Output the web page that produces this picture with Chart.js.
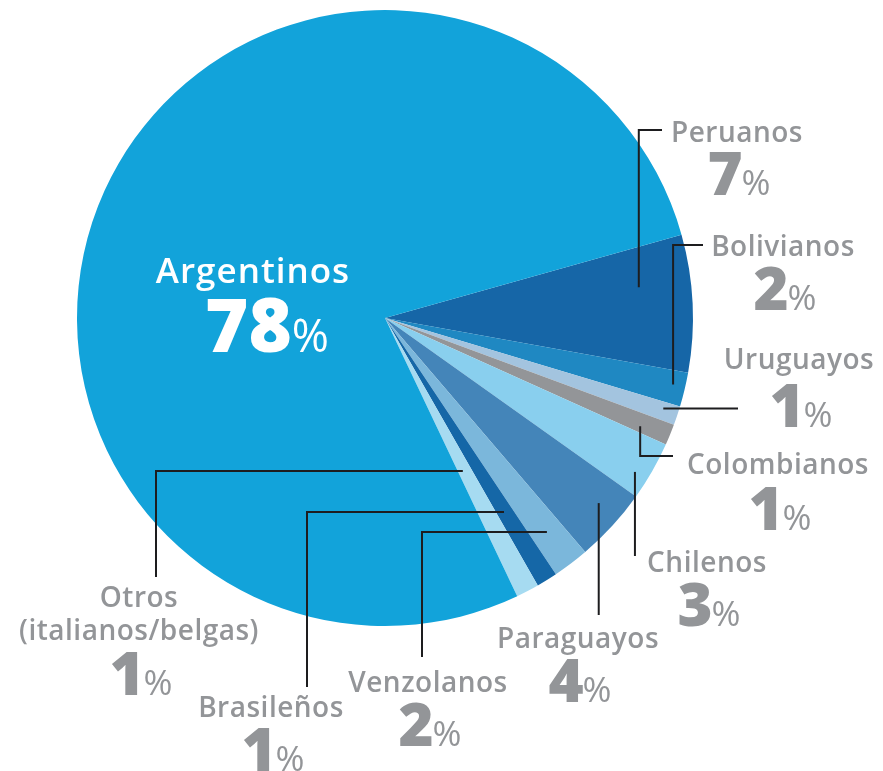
<!DOCTYPE html>
<html>
<head>
<meta charset="utf-8">
<script src="https://cdn.jsdelivr.net/npm/chart.js@4"></script>
<style>
  html, body { margin: 0; padding: 0; background: #fff; }
  #wrap { width: 883px; height: 771px; position: relative; }
</style>
</head>
<body>
<div id="wrap"><canvas id="pie"></canvas></div>
<script>
const categories = ['Peruanos', 'Bolivianos', 'Uruguayos', 'Colombianos', 'Chilenos',
                    'Paraguayos', 'Venzolanos', 'Brasileños', 'Otros (italianos/belgas)', 'Argentinos'];
const sliceValues = [7.2, 1.8, 1.0, 1.1, 3.1, 3.9, 1.9, 1.1, 1.2, 77.7];
const shownPercent = [7, 2, 1, 1, 3, 4, 2, 1, 1, 78];
const nameLines = [['Peruanos'], ['Bolivianos'], ['Uruguayos'], ['Colombianos'], ['Chilenos'],
                   ['Paraguayos'], ['Venzolanos'], ['Brasileños'], ['Otros', '(italianos/belgas)'], ['Argentinos']];
const sliceColors = ['#1666a7', '#1f88c2', '#a3c4df', '#939598', '#89cfee',
                     '#4485b9', '#7bb7db', '#1567a7', '#a6dbf1', '#12a3da'];

// Label placement: text centre x, first-line baseline, number baseline,
// leader anchor inside the slice [fraction of the slice angle, fraction of radius], and route
const labelLayout = [
    { x: 737, y: 142, py: 195, anchor: [0.34, 0.83], route: [['v', 130], ['h', 662]] },
    { x: 783, y: 256, py: 310, anchor: [0.43, 0.96], route: [['v', 245], ['h', 703]] },
    { x: 799, y: 369, py: 427, anchor: [0.36, 0.95], route: [['h', 738]] },
    { x: 778, y: 474, py: 530, anchor: [0.68, 0.90], route: [['v', 456], ['h', 673]] },
    { x: 707, y: 572, py: 626, anchor: [0.66, 0.953], route: [['v', 556]] },
    { x: 578, y: 648, py: 702, anchor: [0.39, 0.918], route: [['v', 615]] },
    { x: 428, y: 692, py: 746, anchor: [0.50, 0.871], route: [['h', 422], ['v', 657]] },
    { x: 271, y: 717, py: 771, anchor: [0.55, 0.739], route: [['h', 307], ['v', 687]] },
    { x: 139, y: 607, py: 695, lineGap: 33, anchor: [0.64, 0.557], route: [['h', 156], ['v', 577]] },
    { x: 253, y: 283, py: 352, inside: true }
];

const GRAY = '#939598';
const FONT = '"Open Sans", "DejaVu Sans", sans-serif';

const labelPlugin = {
    id: 'leaderLabels',
    afterDatasetsDraw(chart) {
        const ctx = chart.ctx;
        const arcs = chart.getDatasetMeta(0).data;
        ctx.save();
        arcs.forEach((arc, i) => {
            const lay = labelLayout[i];
            if (!lay) return;
            // leader line, starting from a point inside the slice
            if (lay.anchor) {
                const a = arc.startAngle + lay.anchor[0] * (arc.endAngle - arc.startAngle);
                const r = lay.anchor[1] * arc.outerRadius;
                let px = arc.x + Math.cos(a) * r;
                let py = arc.y + Math.sin(a) * r;
                ctx.beginPath();
                ctx.moveTo(px, py);
                lay.route.forEach(([dir, v]) => {
                    if (dir === 'v') py = v; else px = v;
                    ctx.lineTo(px, py);
                });
                ctx.strokeStyle = '#1d1d1f';
                ctx.lineWidth = 2;
                ctx.stroke();
            }
            ctx.fillStyle = lay.inside ? '#ffffff' : GRAY;
            ctx.textBaseline = 'alphabetic';
            ctx.textAlign = 'center';
            // name
            ctx.font = (lay.inside ? '600 35px ' : '600 28px ') + FONT;
            ctx.letterSpacing = lay.inside ? '1px' : '0.5px';
            nameLines[i].forEach((t, k) => {
                ctx.fillText(t, lay.x, lay.y + k * (lay.lineGap || 0));
            });
            // number + %
            const numFont = (lay.inside ? '800 74px ' : '800 60px ') + FONT;
            const pctFont = (lay.inside ? '400 45px ' : '400 35px ') + FONT;
            const numSpacing = lay.inside ? '0px' : '-1px';
            ctx.letterSpacing = numSpacing;
            ctx.font = numFont;
            const num = String(shownPercent[i]);
            const wn = ctx.measureText(num).width;
            ctx.letterSpacing = '0px';
            ctx.font = pctFont;
            const wp = ctx.measureText('%').width;
            const cx = lay.x + (lay.inside ? 14 : 2);
            const left = cx - (wn + wp) / 2;
            ctx.textAlign = 'left';
            ctx.letterSpacing = numSpacing;
            ctx.font = numFont;
            ctx.fillText(num, left, lay.py);
            ctx.letterSpacing = '0px';
            ctx.font = pctFont;
            ctx.fillText('%', left + wn, lay.py);
        });
        ctx.restore();
    }
};

new Chart(document.getElementById('pie'), {
    type: 'pie',
    data: {
        labels: categories,
        datasets: [{
            data: sliceValues,
            backgroundColor: sliceColors,
            borderWidth: 0
        }]
    },
    options: {
        responsive: true,
        maintainAspectRatio: false,
        animation: false,
        rotation: 74.3,
        layout: { padding: { left: 77, right: 190, top: 10, bottom: 145 } },
        plugins: { legend: { display: false }, tooltip: { enabled: false } }
    },
    plugins: [labelPlugin]
});
</script>
</body>
</html>
